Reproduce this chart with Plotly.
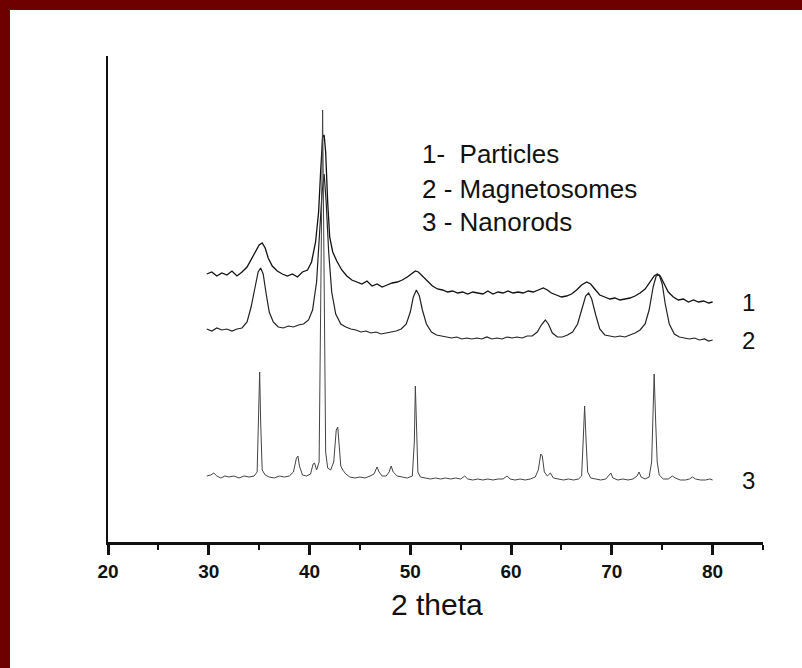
import plotly.graph_objects as go

# ---------------- data (2 theta, intensity in arbitrary units) ----------------
x_particles = [29.8, 30.3, 30.8, 31.3, 31.8, 32.3, 32.8, 33.3, 33.8, 34.3, 34.7, 35.0, 35.3, 35.6, 35.9,
               36.3, 36.8, 37.3, 37.8, 38.3, 38.8, 39.3, 39.8, 40.2, 40.6, 40.9, 41.1, 41.3, 41.45, 41.6,
               41.8, 42.0, 42.3, 42.7, 43.2, 43.7, 44.2, 44.7, 45.2, 45.7, 46.2, 46.7, 47.2, 47.7, 48.2,
               48.7, 49.2, 49.7, 50.1, 50.5, 50.8, 51.2, 51.7, 52.2, 52.7, 53.2, 53.7, 54.2, 54.7, 55.2,
               55.7, 56.2, 56.7, 57.2, 57.7, 58.2, 58.7, 59.2, 59.7, 60.2, 60.7, 61.2, 61.7, 62.2, 62.7,
               63.2, 63.6, 64.0, 64.5, 65.0, 65.5, 66.0, 66.5, 67.0, 67.5, 67.9, 68.3, 68.8, 69.3, 69.8,
               70.3, 70.8, 71.3, 71.8, 72.3, 72.8, 73.3, 73.8, 74.2, 74.5, 74.8, 75.2, 75.6, 76.1, 76.6,
               77.1, 77.6, 78.1, 78.6, 79.1, 79.6, 80.0]
y_particles = [268, 270, 266, 269, 267, 271, 266, 270, 275, 284, 292, 297, 299, 294, 284,
               276, 271, 268, 266, 268, 265, 270, 272, 280, 300, 330, 370, 405, 407, 390,
               340, 305, 290, 281, 272, 266, 262, 260, 258, 261, 256, 258, 255, 257, 259,
               260, 262, 265, 268, 271, 270, 266, 260, 256, 253, 252, 250, 251, 249, 250,
               248, 250, 249, 248, 251, 248, 250, 249, 251, 249, 250, 249, 251, 250, 252,
               254, 252, 249, 247, 245, 246, 248, 252, 257, 260, 258, 253, 247, 245, 243,
               244, 242, 243, 244, 246, 249, 253, 260, 266, 268, 266, 258, 250, 245, 242,
               243, 240, 242, 240, 241, 239, 240]

x_magneto = [29.8, 30.3, 30.8, 31.3, 31.8, 32.3, 32.8, 33.3, 33.8, 34.2, 34.6, 34.9, 35.15, 35.4, 35.7,
             36.0, 36.4, 36.9, 37.4, 37.9, 38.4, 38.9, 39.4, 39.9, 40.3, 40.7, 41.0, 41.25, 41.45, 41.65,
             41.9, 42.2, 42.6, 43.1, 43.6, 44.1, 44.6, 45.1, 45.6, 46.1, 46.6, 47.1, 47.6, 48.1, 48.6,
             49.1, 49.6, 50.0, 50.3, 50.6, 50.9, 51.2, 51.6, 52.1, 52.6, 53.1, 53.6, 54.1, 54.6, 55.1,
             55.6, 56.1, 56.6, 57.1, 57.6, 58.1, 58.6, 59.1, 59.6, 60.1, 60.6, 61.1, 61.6, 62.1, 62.6,
             63.0, 63.4, 63.7, 64.1, 64.6, 65.1, 65.6, 66.1, 66.6, 67.0, 67.4, 67.7, 68.0, 68.4, 68.8,
             69.3, 69.8, 70.3, 70.8, 71.3, 71.8, 72.3, 72.8, 73.3, 73.7, 74.1, 74.4, 74.7, 75.0, 75.3,
             75.7, 76.2, 76.7, 77.2, 77.7, 78.2, 78.7, 79.2, 79.6, 80.0]
y_magneto = [213, 211, 214, 212, 213, 211, 213, 214, 220, 235, 255, 270, 274, 268, 248,
             230, 220, 215, 214, 216, 215, 217, 218, 222, 232, 260, 310, 350, 368, 340,
             290, 250, 228, 218, 215, 213, 212, 210, 211, 209, 210, 208, 209, 210, 211,
             213, 218, 230, 245, 252, 246, 232, 218, 210, 207, 206, 205, 204, 205, 203,
             204, 203, 204, 203, 205, 203, 204, 203, 205, 204, 205, 204, 206, 206, 210,
             217, 222, 218, 209, 205, 205, 207, 210, 218, 232, 246, 249, 243, 227, 213,
             207, 206, 205, 206, 205, 207, 209, 212, 218, 232, 255, 266, 267, 258, 238,
             218, 208, 205, 204, 203, 204, 202, 203, 201, 202]

x_nanorods = [29.8, 30.2, 30.5, 30.8, 31.2, 31.6, 32.0, 32.5, 33.0, 33.5, 34.0, 34.5, 34.8, 34.95, 35.05,
              35.15, 35.3, 35.6, 36.0, 36.5, 37.0, 37.5, 38.0, 38.4, 38.7, 38.85, 39.0, 39.3, 39.7, 40.1,
              40.35, 40.5, 40.7, 40.95, 41.15, 41.3, 41.45, 41.6, 41.8, 42.1, 42.4, 42.65, 42.8, 42.95, 43.1,
              43.3, 43.6, 44.0, 44.5, 45.0, 45.5, 46.0, 46.4, 46.7, 46.9, 47.2, 47.6, 47.9, 48.1, 48.3,
              48.7, 49.2, 49.7, 50.2, 50.4, 50.5, 50.6, 50.75, 51.0, 51.5, 52.0, 52.5, 53.0, 53.5, 54.0,
              54.5, 55.0, 55.4, 55.7, 56.2, 56.7, 57.2, 57.7, 58.2, 58.7, 59.2, 59.6, 59.9, 60.4, 60.9,
              61.4, 61.9, 62.4, 62.7, 62.95, 63.1, 63.3, 63.6, 63.9, 64.2, 64.7, 65.2, 65.7, 66.2, 66.7,
              67.0, 67.15, 67.3, 67.45, 67.6, 67.9, 68.4, 68.9, 69.4, 69.7, 69.9, 70.1, 70.6, 71.1, 71.6,
              72.1, 72.5, 72.7, 72.9, 73.3, 73.7, 73.95, 74.1, 74.2, 74.35, 74.5, 74.7, 75.1, 75.6, 76.0,
              76.3, 76.8, 77.3, 77.7, 78.0, 78.3, 78.8, 79.3, 79.7, 80.0]
y_nanorods = [66, 67, 69, 66, 64, 66, 65, 66, 64, 66, 65, 66, 70, 120, 170,
              120, 72, 67, 65, 64, 66, 65, 66, 70, 84, 86, 76, 67, 66, 68,
              78, 79, 72, 80, 250, 432, 260, 90, 74, 72, 80, 112, 115, 95, 76,
              72, 68, 65, 64, 65, 64, 66, 68, 75, 70, 66, 66, 70, 76, 70,
              66, 65, 64, 66, 100, 156, 120, 70, 65, 64, 63, 64, 63, 64, 63,
              64, 63, 66, 63, 62, 63, 62, 63, 62, 63, 63, 66, 63, 62, 63,
              62, 63, 65, 72, 88, 86, 70, 66, 69, 64, 63, 62, 63, 62, 63,
              66, 100, 136, 100, 70, 64, 63, 62, 63, 66, 69, 64, 62, 63, 62,
              63, 66, 70, 65, 63, 65, 80, 130, 168, 120, 80, 67, 63, 63, 66,
              64, 62, 62, 63, 65, 63, 62, 62, 63, 62]

legend_lines = ["1-  Particles", "2 - Magnetosomes", "3 - Nanorods"]
legend_y = [388, 353, 320]
curve_labels = ["1", "2", "3"]
curve_label_y = [240, 202, 62]
curve_label_x = 83.6
x_title = "2 theta"

# ---------------- figure ----------------
fig = go.Figure()
fig.add_trace(go.Scatter(x=x_particles, y=y_particles, mode="lines",
                         line=dict(color="#111111", width=1.3), showlegend=False))
fig.add_trace(go.Scatter(x=x_magneto, y=y_magneto, mode="lines",
                         line=dict(color="#222222", width=1.2), showlegend=False))
fig.add_trace(go.Scatter(x=x_nanorods, y=y_nanorods, mode="lines",
                         line=dict(color="#444444", width=1), showlegend=False))

font_fam = "Liberation Sans, Arial, sans-serif"
annotations = []
for txt, yy in zip(legend_lines, legend_y):
    annotations.append(dict(x=51.0, y=yy, xref="x", yref="y", text=txt, showarrow=False,
                            xanchor="left", yanchor="middle",
                            font=dict(family=font_fam, size=26, color="#111111")))
for txt, yy in zip(curve_labels, curve_label_y):
    annotations.append(dict(x=curve_label_x, y=yy, xref="x", yref="y", text=txt, showarrow=False,
                            xanchor="center", yanchor="middle",
                            font=dict(family=font_fam, size=24, color="#111111")))
annotations.append(dict(x=52.6, y=-0.128, xref="x", yref="paper", text=x_title, showarrow=False,
                        xanchor="center", yanchor="middle",
                        font=dict(family=font_fam, size=30, color="#111111")))

W, H = 802, 668
ml, mr, mt, mb = 108, 39, 56, 126
pw, ph = W - ml - mr, H - mt - mb
def px(xp):
    return (xp - ml) / pw
def py(yp):
    return (H - mb - yp) / ph

red = "#6f0000"
shapes = [
    dict(type="rect", xref="paper", yref="paper", x0=px(0), x1=px(10), y0=py(H), y1=py(0),
         fillcolor=red, line=dict(width=0), layer="above"),
    dict(type="rect", xref="paper", yref="paper", x0=px(0), x1=px(W), y0=py(10), y1=py(0),
         fillcolor=red, line=dict(width=0), layer="above"),
]

fig.update_layout(
    width=W, height=H,
    margin=dict(l=ml, r=mr, t=mt, b=mb, pad=0),
    paper_bgcolor="white", plot_bgcolor="white",
    annotations=annotations, shapes=shapes,
    xaxis=dict(range=[20, 85], showline=True, linecolor="#111111", linewidth=2.5,
               ticks="outside", ticklen=10, tickwidth=3, tickcolor="#111111",
               tick0=20, dtick=10, showgrid=False, zeroline=False,
               tickfont=dict(family=font_fam, size=19, color="#111111", weight="bold"),
               minor=dict(ticks="outside", ticklen=5, tickwidth=2, tickcolor="#111111", dtick=5, tick0=20,
                          showgrid=False)),
    yaxis=dict(range=[0, ph], showline=True, linecolor="#111111", linewidth=2,
               ticks="", showticklabels=False, showgrid=False, zeroline=False),
)

fig.write_html("out.html")
